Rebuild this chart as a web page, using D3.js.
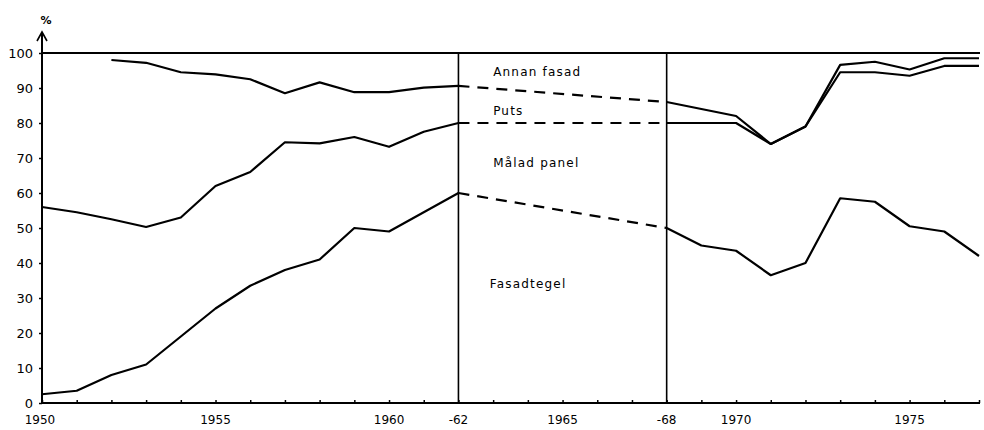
<!DOCTYPE html>
<html><head><meta charset="utf-8">
<script src="https://cdn.jsdelivr.net/npm/d3@7"></script>
<style>body{margin:0;background:#fff}text{font-family:"DejaVu Sans",sans-serif;fill:#000}</style>
</head><body><svg id="c" width="984" height="430"></svg>
<script>
const yearsA = [1950,1951,1952,1953,1954,1955,1956,1957,1958,1959,1960,1961,1962];
const yearsB = [1968,1969,1970,1971,1972,1973,1974,1975,1976,1977];
// Fasadtegel upper edge
const tegelA = [2.5,3.5,8,11,19,27,33.5,38,41,50,49,54.5,60];
const tegelB = [50,45,43.5,36.5,40,58.5,57.5,50.5,49,42];
// Målad panel upper edge
const panelA = [56,54.5,52.5,50.3,53,62,66,74.5,74.2,76,73.2,77.5,80];
const panelB = [80,80,80,74,79,94.5,94.5,93.5,96.3,96.3];
// Puts upper edge (from 1952)
const putsYearsA = [1952,1953,1954,1955,1956,1957,1958,1959,1960,1961,1962];
const putsA = [98,97.2,94.5,93.9,92.5,88.5,91.6,88.8,88.8,90.1,90.6];
const putsB = [86,84,82,74,79,96.6,97.5,95.3,98.5,98.5];
const xTicks = [1950,1955,1960,1962,1965,1968,1970,1975];
const xTickLabels = ["1950","1955","1960","-62","1965","-68","1970","1975"];
const yTicks = [0,10,20,30,40,50,60,70,80,90,100];
const seriesLabels = [
  {t:"Annan fasad", yr:1963.0, v:93.5},
  {t:"Puts", yr:1963.0, v:82.3},
  {t:"Målad panel", yr:1963.0, v:67.5},
  {t:"Fasadtegel", yr:1962.9, v:33}
];

const svg = d3.select("#c");
const x = d3.scaleLinear().domain([1950,1977]).range([42,979]);
const y = d3.scaleLinear().domain([0,100]).range([403,53]);
const line = d3.line().x(d=>x(d[0])).y(d=>y(d[1]));
const g = svg.append("g");

// axes
const xAxis = d3.axisBottom(x).tickValues(d3.range(1950,1978)).tickSize(-3).tickFormat("");
const xa = g.append("g").attr("transform",`translate(0,${y(0)})`).call(xAxis);
xa.select(".domain").attr("stroke","#000").attr("stroke-width",2).attr("d",`M${x(1950)},0H${x(1977)+1}`);
xa.selectAll(".tick line").attr("stroke","#000").attr("stroke-width",1.5);
g.append("g").attr("transform",`translate(0,${y(0)})`)
  .selectAll("text").data(xTicks).join("text")
  .attr("x",(d,i)=>x(d)-(i===0?2:0)).attr("y",21).attr("text-anchor","middle")
  .attr("font-size",12).text((d,i)=>xTickLabels[i]);

const yAxis = d3.axisLeft(y).tickValues(yTicks).tickSize(3).tickPadding(6).tickFormat(d=>d);
const ya = g.append("g").attr("transform",`translate(${x(1950)},0)`).call(yAxis);
ya.select(".domain").attr("stroke","#000").attr("stroke-width",2).attr("d","M0,"+(y(0)+1)+"V32");
ya.selectAll(".tick line").attr("stroke","#000").attr("stroke-width",1.5);
ya.selectAll(".tick text").attr("font-size",13).attr("font-family","DejaVu Sans").attr("fill","#000");
// arrow
g.append("path").attr("d",`M${x(1950)-5},41L${x(1950)},32L${x(1950)+5},41`).attr("fill","none").attr("stroke","#000").attr("stroke-width",1.6);
g.append("text").attr("x",x(1950)+4).attr("y",24).attr("text-anchor","middle").attr("font-size",11).attr("font-weight","bold").text("%");

// top line at 100
g.append("line").attr("x1",x(1950)).attr("x2",x(1977)+1).attr("y1",y(100)).attr("y2",y(100)).attr("stroke","#000").attr("stroke-width",2);
// verticals
[1962,1968].forEach(v=>g.append("line").attr("x1",x(v)).attr("x2",x(v)).attr("y1",y(100)).attr("y2",y(0)).attr("stroke","#000").attr("stroke-width",1.6));

function draw(data, dashed){
  g.append("path").datum(data).attr("d",line).attr("fill","none").attr("stroke","#000")
   .attr("stroke-width",2.2).attr("stroke-linejoin","round")
   .attr("stroke-dasharray",dashed?"11,8":null);
}
draw(yearsA.map((yr,i)=>[yr,tegelA[i]]));
draw(yearsB.map((yr,i)=>[yr,tegelB[i]]));
draw([[1962,tegelA[tegelA.length-1]],[1968,tegelB[0]]],true);
draw(yearsA.map((yr,i)=>[yr,panelA[i]]));
draw(yearsB.map((yr,i)=>[yr,panelB[i]]));
draw([[1962,panelA[panelA.length-1]],[1968,panelB[0]]],true);
draw(putsYearsA.map((yr,i)=>[yr,putsA[i]]));
draw(yearsB.map((yr,i)=>[yr,putsB[i]]));
draw([[1962,putsA[putsA.length-1]],[1968,putsB[0]]],true);

g.selectAll(".lbl").data(seriesLabels).join("text").attr("class","lbl")
  .attr("x",d=>x(d.yr)).attr("y",d=>y(d.v)).attr("font-size",12).attr("letter-spacing",1.2)
  .text(d=>d.t);
</script></body></html>
